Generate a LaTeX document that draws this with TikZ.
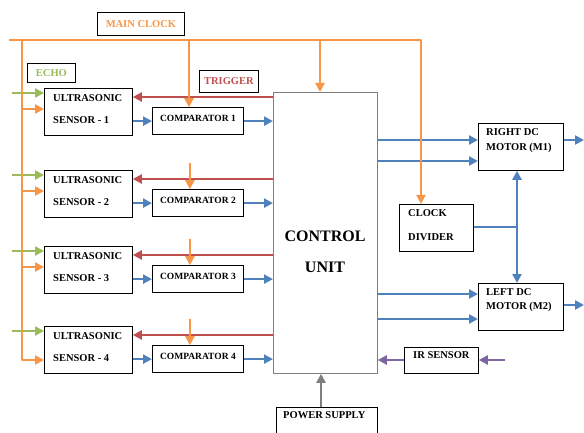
\documentclass[tikz,border=0pt]{standalone}
\usepackage{fontspec}
\setmainfont{Liberation Serif}
\usetikzlibrary{arrows.meta,calc}
\definecolor{clkorange}{HTML}{F79646}
\definecolor{trigred}{HTML}{C0504D}
\definecolor{sigblue}{HTML}{4F81BD}
\definecolor{echogreen}{HTML}{9BBB59}
\definecolor{irpurple}{HTML}{8064A2}
\definecolor{pwrgray}{HTML}{7F7F7F}
\begin{document}
\begin{tikzpicture}[x=1pt,y=-1pt,
  box/.style={draw=black,line width=0.8pt,inner sep=0pt,anchor=north west},
  lbl/.style={font=\bfseries\fontsize{10.5}{12}\selectfont,inner sep=0pt},
  smalllbl/.style={font=\bfseries\fontsize{9.5}{11}\selectfont,inner sep=0pt},
  tip/.tip={Triangle[length=9pt,width=9pt]},
  conn/.style={line width=2.7pt,line join=round,-tip},
  clk/.style={conn,draw=clkorange},
  trig/.style={conn,draw=trigred},
  sig/.style={conn,draw=sigblue},
  echo/.style={conn,draw=echogreen},
  irl/.style={conn,draw=irpurple},
  pwr/.style={conn,draw=pwrgray}]
\useasboundingbox (0,0) rectangle (584,433);

% control unit
\node[box,draw=pwrgray,minimum width=104,minimum height=281] (cu) at (273,92) {};
\node[font=\bfseries\fontsize{16}{18}\selectfont,inner sep=0pt] at (325,236) {CONTROL};
\node[font=\bfseries\fontsize{16}{18}\selectfont,inner sep=0pt] at (325,267) {UNIT};

% caption boxes
\node[box,minimum width=87,minimum height=23] (mc) at (97,12) {};
\node[lbl,text=clkorange] at (mc.center) {MAIN CLOCK};
\node[box,minimum width=48,minimum height=19] (ec) at (27,63) {};
\node[lbl,text=echogreen] at (ec.center) {ECHO};
\node[box,minimum width=59,minimum height=22] (tg) at (199,70) {};
\node[lbl,text=trigred] at (tg.center) {TRIGGER};

% sensor / comparator rows
\foreach \i/\T in {1/88,2/170,3/246,4/326}{
  \node[box,minimum width=88,minimum height=47] (s\i) at (44,\T) {};
  \node[lbl,anchor=west] at (53,\T+10) {ULTRASONIC};
  \node[lbl,anchor=west] at (53,\T+32) {SENSOR - \i};
  \node[box,anchor=south west,minimum width=91,minimum height=27] (c\i) at (152,\T+47) {};
  \node[smalllbl] at ($(c\i.center)+(0,-3)$) {COMPARATOR \i};
  \coordinate (g\i) at (12,\T+5);
  \coordinate (r\i) at (0,\T+9);
  \draw[echo] (g\i) -- (g\i -| s\i.west);
  \draw[trig] (r\i -| cu.west) -- (r\i -| s\i.east);
  \draw[sig] (c\i.west -| s\i.east) -- (c\i.west);
  \draw[sig] (c\i.east) -- (c\i.east -| cu.west);
}

% clock distribution
\coordinate (mcl) at (9,40);
\coordinate (mcr) at (421,40);
\coordinate (vt) at (22,40);
\coordinate (vb) at (22,360);
\coordinate (cb1) at (189,40);
\coordinate (cuk) at (320,40);
\foreach \i/\T in {1/88,2/170,3/246}{
  \coordinate (o\i) at (22,\T+21);
  \draw[clk] (o\i) -- (o\i -| s\i.west);
}
\draw[clk] (vt) -- (vb) -- (vb -| s4.west);
\draw[clk] (cb1) -- (cb1 |- c1.north);
\foreach \i in {2,3,4}{
  \coordinate (cb\i) at ($(c\i.north)+(-8,-26)$);
  \draw[clk] (cb\i) -- (cb\i |- c\i.north);
}
\draw[clk] (cuk) -- (cuk |- cu.north);

% motors and clock divider
\node[box,minimum width=85,minimum height=47] (rm) at (478,123) {};
\node[lbl,anchor=west] at (486,132) {RIGHT DC};
\node[lbl,anchor=west] at (486,148) {MOTOR (M1)};
\node[box,minimum width=85,minimum height=47] (lm) at (478,283) {};
\node[lbl,anchor=west] at (486,292) {LEFT DC};
\node[lbl,anchor=west] at (486,307) {MOTOR (M2)};
\node[box,minimum width=74,minimum height=47] (cd) at (399,204) {};
\node[lbl,anchor=west] at (408,213) {CLOCK};
\node[lbl,anchor=west] at (408,237) {DIVIDER};

\coordinate (m1a) at (0,140);
\coordinate (m1b) at (0,161);
\coordinate (m2a) at (0,294);
\coordinate (m2b) at (0,319);
\draw[sig] (m1a -| cu.east) -- (m1a -| rm.west);
\draw[sig] (m1b -| cu.east) -- (m1b -| rm.west);
\draw[sig] (m2a -| cu.east) -- (m2a -| lm.west);
\draw[sig] (m2b -| cu.east) -- (m2b -| lm.west);
\coordinate (o1) at (584,140);
\coordinate (o2) at (584,305);
\draw[sig] (o1 -| rm.east) -- (o1);
\draw[sig] (o2 -| lm.east) -- (o2);
\coordinate (dj) at (517,227);
\draw[line width=2.7pt,draw=sigblue] (cd.east |- dj) -- (dj);
\draw[sig,tip-tip] (dj |- rm.south) -- (dj |- lm.north);

\draw[clk] (mcl) -- (mcr) -- (mcr |- cd.north);

% IR sensor and power supply
\node[box,minimum width=74,minimum height=26] (ir) at (404,347) {};
\node[lbl] at ($(ir.center)+(0,-5)$) {IR SENSOR};
\coordinate (irin) at (505,360);
\draw[irl] (irin) -- (irin -| ir.east);
\draw[irl] (irin -| ir.west) -- (irin -| cu.east);
\node[box,minimum width=101,minimum height=40] (ps) at (276,407) {};
\node[lbl,anchor=west] at (283,415) {POWER SUPPLY};
\coordinate (pa) at (321,407);
\draw[pwr] (pa) -- (pa |- cu.south);
\end{tikzpicture}
\end{document}
